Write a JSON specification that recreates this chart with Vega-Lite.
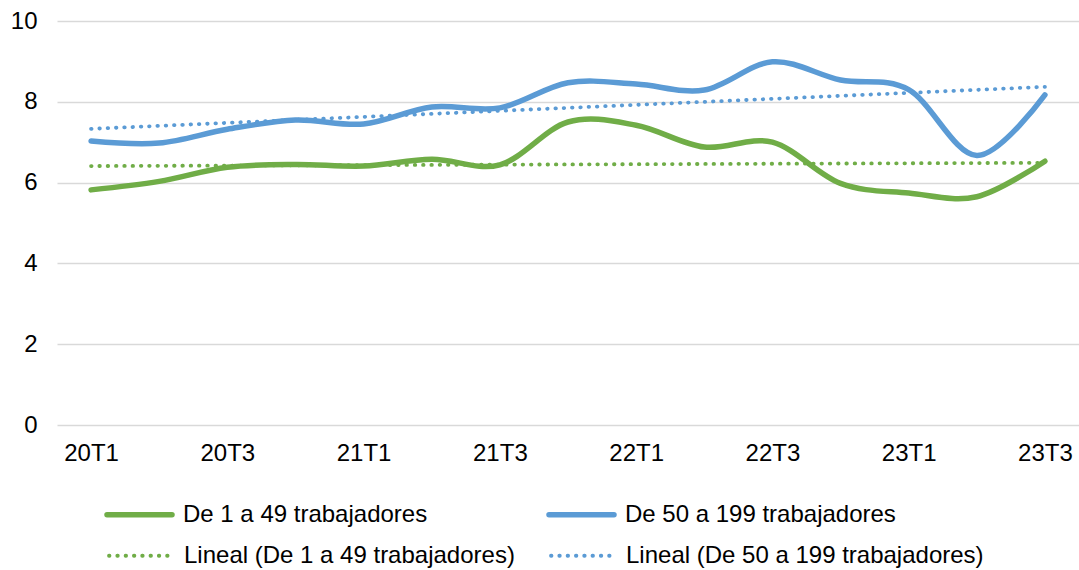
{
  "$schema": "https://vega.github.io/schema/vega-lite/v6.json",
  "width": 1022,
  "height": 404,
  "autosize": {"type": "none"},
  "padding": {"left": 57, "top": 21, "right": 0, "bottom": 145},
  "background": "white",
  "config": {"view": {"stroke": null}, "font": "Liberation Sans"},
  "datasets": {
    "obs": [
      {"q": "20T1", "serie": "De 1 a 49 trabajadores", "v": 5.82},
      {"q": "20T2", "serie": "De 1 a 49 trabajadores", "v": 6.03},
      {"q": "20T3", "serie": "De 1 a 49 trabajadores", "v": 6.38},
      {"q": "20T4", "serie": "De 1 a 49 trabajadores", "v": 6.45},
      {"q": "21T1", "serie": "De 1 a 49 trabajadores", "v": 6.41},
      {"q": "21T2", "serie": "De 1 a 49 trabajadores", "v": 6.58},
      {"q": "21T3", "serie": "De 1 a 49 trabajadores", "v": 6.44},
      {"q": "21T4", "serie": "De 1 a 49 trabajadores", "v": 7.5},
      {"q": "22T1", "serie": "De 1 a 49 trabajadores", "v": 7.42},
      {"q": "22T2", "serie": "De 1 a 49 trabajadores", "v": 6.88},
      {"q": "22T3", "serie": "De 1 a 49 trabajadores", "v": 7.0},
      {"q": "22T4", "serie": "De 1 a 49 trabajadores", "v": 5.98},
      {"q": "23T1", "serie": "De 1 a 49 trabajadores", "v": 5.74},
      {"q": "23T2", "serie": "De 1 a 49 trabajadores", "v": 5.65},
      {"q": "23T3", "serie": "De 1 a 49 trabajadores", "v": 6.53},
      {"q": "20T1", "serie": "De 50 a 199 trabajadores", "v": 7.03},
      {"q": "20T2", "serie": "De 50 a 199 trabajadores", "v": 6.98},
      {"q": "20T3", "serie": "De 50 a 199 trabajadores", "v": 7.32},
      {"q": "20T4", "serie": "De 50 a 199 trabajadores", "v": 7.55},
      {"q": "21T1", "serie": "De 50 a 199 trabajadores", "v": 7.45},
      {"q": "21T2", "serie": "De 50 a 199 trabajadores", "v": 7.87},
      {"q": "21T3", "serie": "De 50 a 199 trabajadores", "v": 7.85},
      {"q": "21T4", "serie": "De 50 a 199 trabajadores", "v": 8.47},
      {"q": "22T1", "serie": "De 50 a 199 trabajadores", "v": 8.44},
      {"q": "22T2", "serie": "De 50 a 199 trabajadores", "v": 8.29},
      {"q": "22T3", "serie": "De 50 a 199 trabajadores", "v": 8.99},
      {"q": "22T4", "serie": "De 50 a 199 trabajadores", "v": 8.54},
      {"q": "23T1", "serie": "De 50 a 199 trabajadores", "v": 8.3},
      {"q": "23T2", "serie": "De 50 a 199 trabajadores", "v": 6.67},
      {"q": "23T3", "serie": "De 50 a 199 trabajadores", "v": 8.17}
    ],
    "trend": [
      {"q": "20T1", "tendencia": "Lineal (De 1 a 49 trabajadores)", "v": 6.41},
      {"q": "23T3", "tendencia": "Lineal (De 1 a 49 trabajadores)", "v": 6.49},
      {"q": "20T1", "tendencia": "Lineal (De 50 a 199 trabajadores)", "v": 7.33},
      {"q": "23T3", "tendencia": "Lineal (De 50 a 199 trabajadores)", "v": 8.37}
    ]
  },
  "encoding": {
    "x": {
      "field": "q",
      "type": "ordinal",
      "scale": {
        "type": "point",
        "padding": 0.5,
        "domain": ["20T1", "20T2", "20T3", "20T4", "21T1", "21T2", "21T3", "21T4", "22T1", "22T2", "22T3", "22T4", "23T1", "23T2", "23T3"]
      },
      "axis": {
        "title": null,
        "values": ["20T1", "20T3", "21T1", "21T3", "22T1", "22T3", "23T1", "23T3"],
        "labelAngle": 0,
        "labelFontSize": 24,
        "labelColor": "#000000",
        "labelPadding": 16,
        "ticks": false,
        "domain": false,
        "grid": false
      }
    },
    "y": {
      "field": "v",
      "type": "quantitative",
      "scale": {"domain": [0, 10]},
      "axis": {
        "title": null,
        "values": [0, 2, 4, 6, 8, 10],
        "labelFontSize": 24,
        "labelColor": "#000000",
        "labelPadding": 20,
        "ticks": false,
        "domain": false,
        "gridColor": "#d9d9d9",
        "gridWidth": 1.5
      }
    }
  },
  "layer": [
    {
      "data": {"name": "obs"},
      "mark": {"type": "line", "interpolate": "cardinal", "tension": 0, "strokeWidth": 5.5, "strokeCap": "round", "strokeJoin": "round"},
      "encoding": {
        "color": {
          "field": "serie",
          "type": "nominal",
          "scale": {
            "domain": ["De 1 a 49 trabajadores", "De 50 a 199 trabajadores"],
            "range": ["#70AD47", "#5B9BD5"]
          },
          "legend": {
            "title": null,
            "orient": "none",
            "direction": "horizontal",
            "legendX": 47,
            "legendY": 458,
            "symbolType": "stroke",
            "symbolSize": 4225,
            "symbolStrokeWidth": 5.5,
            "labelFontSize": 24,
            "labelColor": "#000000",
            "labelOffset": 8,
            "labelLimit": 0,
            "columnPadding": 110,
            "encode": {"symbols": {"update": {"strokeCap": {"value": "round"}}}}
          }
        }
      }
    },
    {
      "data": {"name": "trend"},
      "mark": {"type": "line", "strokeWidth": 3.8, "strokeDash": [0.5, 7.8], "strokeCap": "round"},
      "encoding": {
        "color": {
          "field": "tendencia",
          "type": "nominal",
          "scale": {
            "domain": ["Lineal (De 1 a 49 trabajadores)", "Lineal (De 50 a 199 trabajadores)"],
            "range": ["#70AD47", "#5B9BD5"]
          },
          "legend": {
            "title": null,
            "orient": "none",
            "direction": "horizontal",
            "legendX": 50,
            "legendY": 500,
            "symbolType": "stroke",
            "symbolSize": 4225,
            "symbolStrokeWidth": 3.8,
            "symbolDash": [0.5, 7.8],
            "labelFontSize": 24,
            "labelColor": "#000000",
            "labelOffset": 8,
            "labelLimit": 0,
            "columnPadding": 28,
            "encode": {"symbols": {"update": {"strokeCap": {"value": "round"}}}}
          }
        }
      }
    }
  ],
  "resolve": {"scale": {"color": "independent"}, "legend": {"color": "independent"}}
}
